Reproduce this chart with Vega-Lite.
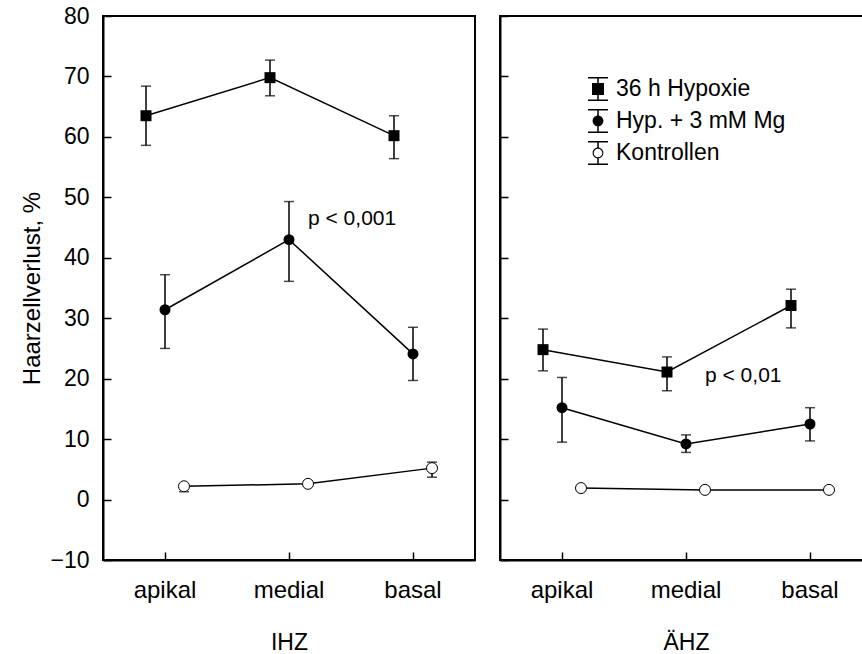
{
  "$schema": "https://vega.github.io/schema/vega-lite/v6.json",
  "padding": {"left": 19, "top": 4, "right": 0, "bottom": 0},
  "background": "white",
  "config": {
    "font": "Liberation Sans",
    "view": {"stroke": "black", "strokeWidth": 2},
    "axis": {"grid": false, "domainColor": "black", "tickColor": "black", "labelColor": "black", "titleColor": "black", "domainWidth": 2, "tickWidth": 1.5, "labelFont": "Liberation Sans", "titleFont": "Liberation Sans", "titleFontWeight": "normal"},
    "legend": {"labelFont": "Liberation Sans", "labelColor": "black"},
    "concat": {"spacing": 22}
  },
  "datasets": {
    "d": [
      {"zone": "IHZ", "pos": "apikal", "series": "36 h Hypoxie", "mean": 63.5, "lo": 58.6, "hi": 68.4},
      {"zone": "IHZ", "pos": "medial", "series": "36 h Hypoxie", "mean": 69.8, "lo": 66.8, "hi": 72.7},
      {"zone": "IHZ", "pos": "basal", "series": "36 h Hypoxie", "mean": 60.2, "lo": 56.4, "hi": 63.5},
      {"zone": "IHZ", "pos": "apikal", "series": "Hyp. + 3 mM Mg", "mean": 31.4, "lo": 25.0, "hi": 37.2},
      {"zone": "IHZ", "pos": "medial", "series": "Hyp. + 3 mM Mg", "mean": 43.0, "lo": 36.1, "hi": 49.3},
      {"zone": "IHZ", "pos": "basal", "series": "Hyp. + 3 mM Mg", "mean": 24.1, "lo": 19.7, "hi": 28.5},
      {"zone": "IHZ", "pos": "apikal", "series": "Kontrollen", "mean": 2.2, "lo": 1.3, "hi": 2.4},
      {"zone": "IHZ", "pos": "medial", "series": "Kontrollen", "mean": 2.6, "lo": 2.2, "hi": 3.0},
      {"zone": "IHZ", "pos": "basal", "series": "Kontrollen", "mean": 5.2, "lo": 3.7, "hi": 6.2},
      {"zone": "ÄHZ", "pos": "apikal", "series": "36 h Hypoxie", "mean": 24.8, "lo": 21.3, "hi": 28.2},
      {"zone": "ÄHZ", "pos": "medial", "series": "36 h Hypoxie", "mean": 21.1, "lo": 18.0, "hi": 23.6},
      {"zone": "ÄHZ", "pos": "basal", "series": "36 h Hypoxie", "mean": 32.1, "lo": 28.4, "hi": 34.8},
      {"zone": "ÄHZ", "pos": "apikal", "series": "Hyp. + 3 mM Mg", "mean": 15.2, "lo": 9.5, "hi": 20.2},
      {"zone": "ÄHZ", "pos": "medial", "series": "Hyp. + 3 mM Mg", "mean": 9.2, "lo": 7.8, "hi": 10.7},
      {"zone": "ÄHZ", "pos": "basal", "series": "Hyp. + 3 mM Mg", "mean": 12.5, "lo": 9.7, "hi": 15.2},
      {"zone": "ÄHZ", "pos": "apikal", "series": "Kontrollen", "mean": 1.9, "lo": 1.5, "hi": 2.3},
      {"zone": "ÄHZ", "pos": "medial", "series": "Kontrollen", "mean": 1.6, "lo": 1.3, "hi": 1.9},
      {"zone": "ÄHZ", "pos": "basal", "series": "Kontrollen", "mean": 1.6, "lo": 1.2, "hi": 2.0}
    ],
    "ann": [
      {"zone": "IHZ", "pos": "medial", "y": 46.4, "label": "p < 0,001"},
      {"zone": "ÄHZ", "pos": "medial", "y": 20.5, "label": "p < 0,01"}
    ]
  },
  "resolve": {"scale": {"x": "independent", "y": "independent", "xOffset": "independent", "fill": "independent", "shape": "independent"}},
  "hconcat": [
    {
      "width": 372,
      "height": 544,
      "data": {"name": "d"},
      "transform": [{"filter": "datum.zone === 'IHZ'"}],
      "encoding": {
        "x": {"field": "pos", "type": "nominal", "sort": ["apikal", "medial", "basal"], "scale": {"type": "band", "paddingInner": 0, "paddingOuter": 0},
          "axis": {"orient": "bottom", "tickSize": -8, "labelFontSize": 24, "labelPadding": 26, "labelAngle": 0, "title": "IHZ", "titleFontSize": 23, "titlePadding": 29}}
      },
      "layer": [
        {"mark": {"type": "rule", "strokeWidth": 1.5, "color": "black"},
          "encoding": {
            "xOffset": {"field": "series", "type": "nominal", "scale": {"type": "point", "padding": 0, "range": [43, 81], "domain": ["36 h Hypoxie", "Hyp. + 3 mM Mg", "Kontrollen"]}},
            "y": {"field": "lo", "type": "quantitative", "scale": {"domain": [-10, 80], "nice": false, "zero": false},
              "axis": {"values": [-10, -5, 0, 5, 10, 15, 20, 25, 30, 35, 40, 45, 50, 55, 60, 65, 70, 75, 80], "labelExpr": "datum.value % 10 === 0 ? datum.label : ''", "tickSize": {"condition": {"test": "datum.value % 10 === 0", "value": -8}, "value": -4}, "labelFontSize": 23, "labelPadding": 22, "title": "Haarzellverlust, %", "titleFontSize": 24, "titlePadding": 5}},
            "y2": {"field": "hi"}}},
        {"mark": {"type": "tick", "orient": "horizontal", "size": 10, "thickness": 1.5, "color": "black"},
          "encoding": {"xOffset": {"field": "series", "type": "nominal"}, "y": {"field": "lo", "type": "quantitative"}}},
        {"mark": {"type": "tick", "orient": "horizontal", "size": 10, "thickness": 1.5, "color": "black"},
          "encoding": {"xOffset": {"field": "series", "type": "nominal"}, "y": {"field": "hi", "type": "quantitative"}}},
        {"mark": {"type": "line", "color": "black", "strokeWidth": 1.5},
          "encoding": {"xOffset": {"field": "series", "type": "nominal"}, "y": {"field": "mean", "type": "quantitative"}, "detail": {"field": "series"}}},
        {"transform": [{"filter": "datum.series === '36 h Hypoxie'"}],
          "mark": {"type": "square", "size": 121, "color": "black", "opacity": 1},
          "encoding": {"xOffset": {"field": "series", "type": "nominal"}, "y": {"field": "mean", "type": "quantitative"}}},
        {"transform": [{"filter": "datum.series === 'Hyp. + 3 mM Mg'"}],
          "mark": {"type": "circle", "size": 121, "color": "black", "opacity": 1},
          "encoding": {"xOffset": {"field": "series", "type": "nominal"}, "y": {"field": "mean", "type": "quantitative"}}},
        {"transform": [{"filter": "datum.series === 'Kontrollen'"}],
          "mark": {"type": "circle", "size": 121, "fill": "white", "stroke": "black", "strokeWidth": 1, "opacity": 1},
          "encoding": {"xOffset": {"field": "series", "type": "nominal"}, "y": {"field": "mean", "type": "quantitative"}}},
        {"data": {"name": "ann"}, "transform": [{"filter": "datum.zone === 'IHZ'"}],
          "mark": {"type": "text", "align": "left", "baseline": "middle", "dx": 19, "fontSize": 21, "color": "black"},
          "encoding": {"y": {"field": "y", "type": "quantitative"}, "text": {"field": "label"}}}
      ]
    },
    {
      "width": 372,
      "height": 544,
      "data": {"name": "d"},
      "transform": [{"filter": "datum.zone === 'ÄHZ'"}],
      "encoding": {
        "x": {"field": "pos", "type": "nominal", "sort": ["apikal", "medial", "basal"], "scale": {"type": "band", "paddingInner": 0, "paddingOuter": 0},
          "axis": {"orient": "bottom", "tickSize": -8, "labelFontSize": 24, "labelPadding": 26, "labelAngle": 0, "title": "ÄHZ", "titleFontSize": 23, "titlePadding": 29}}
      },
      "layer": [
        {"mark": {"type": "rule", "strokeWidth": 1.5, "color": "black"},
          "encoding": {
            "xOffset": {"field": "series", "type": "nominal", "scale": {"type": "point", "padding": 0, "range": [43, 81], "domain": ["36 h Hypoxie", "Hyp. + 3 mM Mg", "Kontrollen"]}},
            "y": {"field": "lo", "type": "quantitative", "scale": {"domain": [-10, 80], "nice": false, "zero": false},
              "axis": {"values": [-10, -5, 0, 5, 10, 15, 20, 25, 30, 35, 40, 45, 50, 55, 60, 65, 70, 75, 80], "labels": false, "tickSize": {"condition": {"test": "datum.value % 10 === 0", "value": -8}, "value": -4}, "title": null}},
            "y2": {"field": "hi"}}},
        {"mark": {"type": "tick", "orient": "horizontal", "size": 10, "thickness": 1.5, "color": "black"},
          "encoding": {"xOffset": {"field": "series", "type": "nominal"}, "y": {"field": "lo", "type": "quantitative"}}},
        {"mark": {"type": "tick", "orient": "horizontal", "size": 10, "thickness": 1.5, "color": "black"},
          "encoding": {"xOffset": {"field": "series", "type": "nominal"}, "y": {"field": "hi", "type": "quantitative"}}},
        {"mark": {"type": "line", "color": "black", "strokeWidth": 1.5},
          "encoding": {"xOffset": {"field": "series", "type": "nominal"}, "y": {"field": "mean", "type": "quantitative"}, "detail": {"field": "series"}}},
        {"transform": [{"filter": "datum.series === '36 h Hypoxie'"}],
          "mark": {"type": "square", "size": 121, "color": "black", "opacity": 1},
          "encoding": {"xOffset": {"field": "series", "type": "nominal"}, "y": {"field": "mean", "type": "quantitative"}}},
        {"transform": [{"filter": "datum.series === 'Hyp. + 3 mM Mg'"}],
          "mark": {"type": "circle", "size": 121, "color": "black", "opacity": 1},
          "encoding": {"xOffset": {"field": "series", "type": "nominal"}, "y": {"field": "mean", "type": "quantitative"}}},
        {"transform": [{"filter": "datum.series === 'Kontrollen'"}],
          "mark": {"type": "circle", "size": 121, "fill": "white", "stroke": "black", "strokeWidth": 1, "opacity": 1},
          "encoding": {"xOffset": {"field": "series", "type": "nominal"}, "y": {"field": "mean", "type": "quantitative"}}},
        {"transform": [{"filter": "false"}],
          "mark": {"type": "point", "filled": true, "fill": "black", "strokeWidth": 0, "opacity": 1},
          "encoding": {"xOffset": {"field": "series", "type": "nominal"}, "y": {"field": "mean", "type": "quantitative"},
            "shape": {"field": "series", "type": "nominal",
              "scale": {"domain": ["36 h Hypoxie", "Hyp. + 3 mM Mg", "Kontrollen"],
                "range": [
                  "M-0.83,-1H0.83V-0.875H-0.83ZM-0.83,0.875H0.83V1H-0.83ZM-0.0625,-1H0.0625V1H-0.0625ZM-0.5,-0.5H0.5V0.5H-0.5Z",
                  "M-0.83,-1H0.83V-0.875H-0.83ZM-0.83,0.875H0.83V1H-0.83ZM-0.0625,-1H0.0625V1H-0.0625ZM-0.45,0A0.45,0.45,0,1,1,0.45,0A0.45,0.45,0,1,1,-0.45,0Z",
                  "M-0.83,-1H0.83V-0.875H-0.83ZM-0.83,0.875H0.83V1H-0.83ZM-0.0625,-1H0.0625V-0.42H-0.0625ZM-0.0625,0.42H0.0625V1H-0.0625ZM-0.45,0A0.45,0.45,0,1,1,0.45,0A0.45,0.45,0,1,1,-0.45,0ZM-0.36,0A0.36,0.36,0,1,0,0.36,0A0.36,0.36,0,1,0,-0.36,0Z"
                ]},
              "legend": {"orient": "none", "legendX": 86, "legendY": 61, "title": null, "symbolSize": 576, "labelFontSize": 23, "labelOffset": 6, "labelLimit": 400, "rowPadding": 8, "symbolFillColor": "black", "symbolStrokeWidth": 0}}}},
        {"data": {"name": "ann"}, "transform": [{"filter": "datum.zone === 'ÄHZ'"}],
          "mark": {"type": "text", "align": "left", "baseline": "middle", "dx": 19, "fontSize": 21, "color": "black"},
          "encoding": {"y": {"field": "y", "type": "quantitative"}, "text": {"field": "label"}}}
      ]
    }
  ]
}
